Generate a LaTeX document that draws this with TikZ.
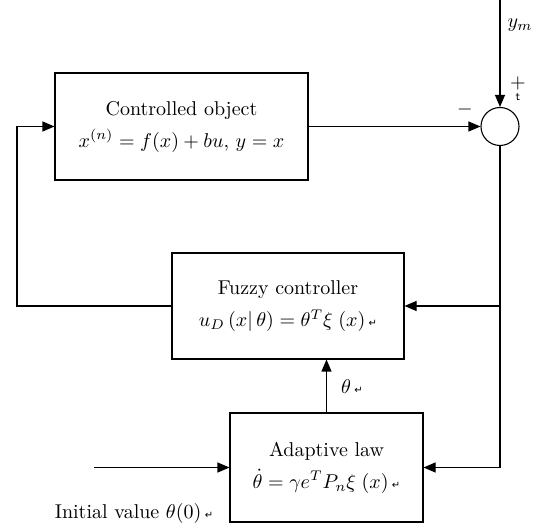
\documentclass[tikz,border=0pt]{standalone}
\usepackage{amsmath}
\usepackage{amssymb}
\usepackage{fontspec}
\newfontfamily\retfont{DejaVu Sans}
\usetikzlibrary{arrows.meta}

% small return mark as printed in the figure
\newcommand{\retmark}{{\retfont\fontsize{5}{5}\selectfont ↵}}

\begin{document}
\begin{tikzpicture}[
    x = 0.5pt, y = -0.5pt, % pixel grid of the figure
    > = {Triangle[length=6pt,width=5pt]}, % arrow head style
    line width = 0.55pt, % line style
    font = \fontsize{10}{16}\selectfont
    ]

    \tikzset{block/.style={
    draw = black,
    rectangle,
    align = center,
    inner sep = 0pt
    }}
    \tikzset{sumpoint/.style={
    draw = black,
    circle,
    minimum size = 19pt,
    inner sep = 0pt
    }}

    \useasboundingbox (0,0) rectangle (542,529);

    \node[block, minimum width=126.5pt, minimum height=53.5pt] (plant) at (181.5,126.5)
        {Controlled object\\ $x^{(n)} = f(x) + bu,\, y = x$};
    \node[block, minimum width=116pt, minimum height=53pt] (fuzzy) at (288,306)
        {Fuzzy controller\\ $u_D\,(x|\,\theta) = \theta^T\xi\;(x)$\,\retmark};
    \node[block, minimum width=96.5pt, minimum height=54.5pt] (adapt) at (326.5,467.5)
        {Adaptive law\\ $\dot\theta = \gamma e^T P_n \xi\;(x)$\,\retmark};
    \node[sumpoint] (sum) at (500,126.5) {};

    \coordinate (ymin) at (500,0);
    \coordinate (tap) at (500,306);
    \coordinate (fbcorner) at (17,306);
    \coordinate (init) at (94,467.5);

    \path[->] (ymin) edge (sum);
    \path[->] (plant) edge (sum);
    \draw (sum) -- (tap);
    \draw[->] (tap) -- (fuzzy.east);
    \draw[->] (tap) |- (adapt.east);
    \draw[->] (fuzzy.west) -- (fbcorner) |- (plant.west);
    \draw[->] (adapt.north) -- (adapt.north |- fuzzy.south);
    \path[->] (init) edge (adapt);

    \node (ymlabel) at (520,25) {$y_m$};
    \node (pluslabel) at (518,84) {$+$};
    \node[font=\fontsize{6}{6}\selectfont\sffamily] (tlabel) at (518,97) {t};
    \node (minuslabel) at (465,110) {$-$};
    \node (thetalabel) at (352,387) {$\theta$\,\retmark};
    \node (initlabel) at (134,514) {Initial value $\theta(0)$\,\retmark};
\end{tikzpicture}
\end{document}
